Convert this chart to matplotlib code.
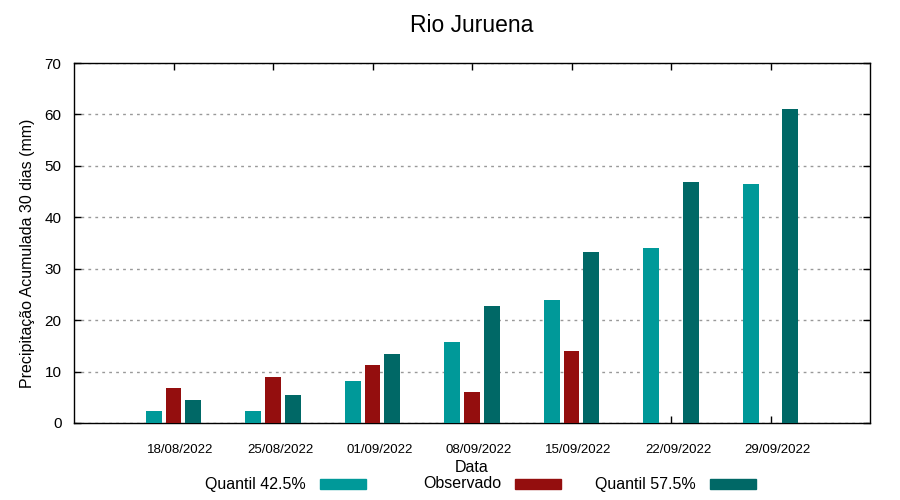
import matplotlib.pyplot as plt
import matplotlib.patches as mpatches
import numpy as np

plt.rcParams['font.family'] = ['Liberation Sans', 'DejaVu Sans']

# dados
datas = ["18/08/2022", "25/08/2022", "01/09/2022", "08/09/2022",
         "15/09/2022", "22/09/2022", "29/09/2022"]
q425 = [2.3, 2.3, 8.2, 15.8, 23.9, 34.0, 46.4]
observado = [6.8, 8.9, 11.3, 6.0, 14.0, np.nan, np.nan]
q575 = [4.5, 5.4, 13.4, 22.8, 33.3, 46.8, 61.0]

series = [("Quantil 42.5%", q425, "#009999"),
          ("Observado", observado, "#940e0e"),
          ("Quantil 57.5%", q575, "#006866")]

fig = plt.figure(figsize=(9, 5), dpi=100)
ax = fig.add_axes([74/900, 1-423/500, (870-74)/900, (423-63)/500])

x = np.arange(len(datas))
width = 0.16
offsets = [-0.2, 0.0, 0.2]
for (nome, vals, cor), off in zip(series, offsets):
    ax.bar(x + off, vals, width=width, color=cor, zorder=3)

ax.set_xlim(-1, 7)
ax.set_ylim(0, 70)
# marcas no centro do grupo, rotulos um pouco a direita (como no gnuplot)
ax.set_xticks(x)
ax.set_xticklabels([""] * len(datas))
ax.set_xticks(x + 0.07, minor=True)
ax.set_xticklabels(datas, minor=True, fontsize=9.5)
ax.tick_params(axis='x', which='minor', length=0, pad=15)
ax.set_yticks(np.arange(0, 71, 10))
ax.tick_params(axis='y', labelsize=11, pad=9)
ax.tick_params(which='major', direction='in', length=5, top=True, right=True, width=1)
ax.yaxis.grid(True, linestyle=(0, (2, 3)), color='#999999', linewidth=1, zorder=0)
for s in ax.spines.values():
    s.set_linewidth(1)

ax.set_xlabel("Data", fontsize=11.5, labelpad=3)
ax.set_ylabel("Precipitação Acumulada 30 dias (mm)", fontsize=11.5)
ax.yaxis.set_label_coords(-0.049, 0.472)
ax.set_title("Rio Juruena", fontsize=16.5, pad=22)

# legenda no estilo gnuplot: texto a direita, amostra depois
leg_text_x = [306, 501, 696]
for (nome, vals, cor), tx in zip(series, leg_text_x):
    fig.text(tx/900, 1-484/500, nome, ha='right', va='center', fontsize=11.5)
    fig.add_artist(mpatches.Rectangle(((tx+14)/900, 1-489/500), 46/900, 10/500,
                                      transform=fig.transFigure, color=cor))

fig.savefig("out.png", dpi=100)
